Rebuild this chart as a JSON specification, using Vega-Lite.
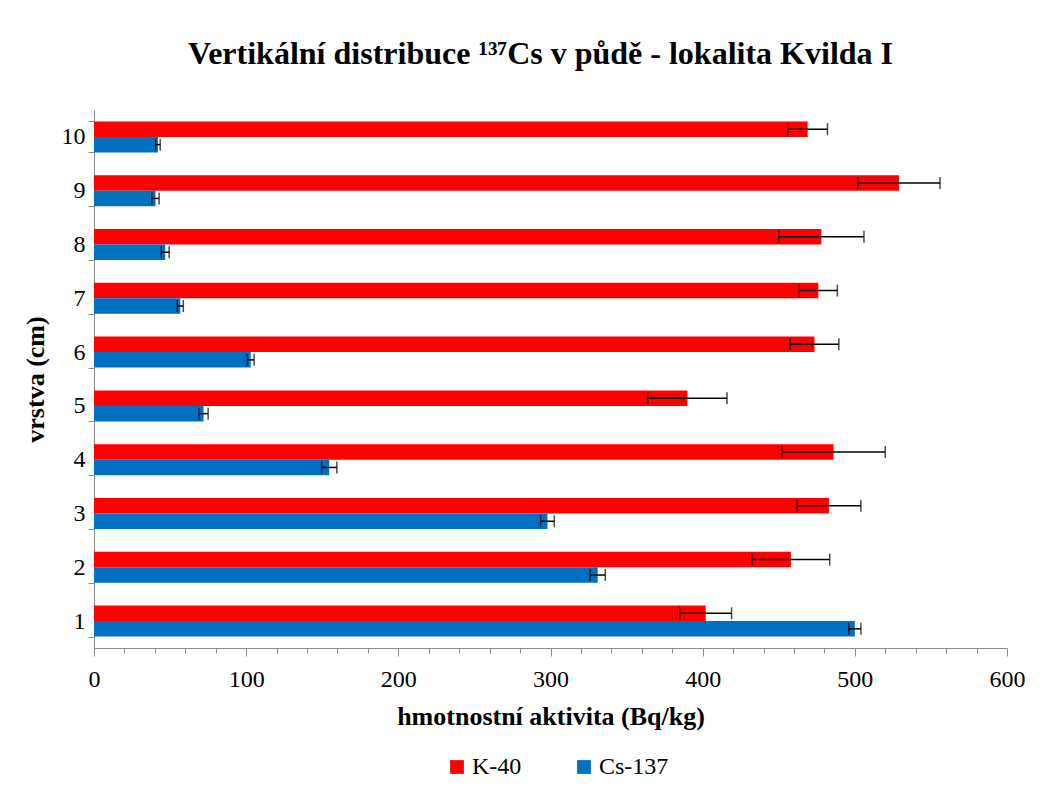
{
  "$schema": "https://vega.github.io/schema/vega-lite/v6.json",
  "width": 913,
  "height": 538,
  "autosize": {"type": "none"},
  "padding": {"left": 94, "top": 110, "right": 49, "bottom": 153},
  "background": "white",
  "config": {"view": {"stroke": null}, "font": "Times New Roman"},
  "title": {
    "text": "Vertikální distribuce ¹³⁷Cs v půdě - lokalita Kvilda I",
    "font": "Times New Roman",
    "fontSize": 32,
    "fontWeight": "bold",
    "color": "black",
    "anchor": "middle",
    "offset": 27,
    "dx": -10
  },
  "data": {
    "values": [
      {"layer": 1, "series": "K-40", "value": 402, "err": 17},
      {"layer": 2, "series": "K-40", "value": 458, "err": 25.5},
      {"layer": 3, "series": "K-40", "value": 483, "err": 21},
      {"layer": 4, "series": "K-40", "value": 486, "err": 34},
      {"layer": 5, "series": "K-40", "value": 390, "err": 26},
      {"layer": 6, "series": "K-40", "value": 473.5, "err": 16},
      {"layer": 7, "series": "K-40", "value": 476, "err": 12.5},
      {"layer": 8, "series": "K-40", "value": 478, "err": 28},
      {"layer": 9, "series": "K-40", "value": 529, "err": 27},
      {"layer": 10, "series": "K-40", "value": 469, "err": 13},
      {"layer": 1, "series": "Cs-137", "value": 500, "err": 4},
      {"layer": 2, "series": "Cs-137", "value": 331, "err": 5},
      {"layer": 3, "series": "Cs-137", "value": 298, "err": 4.5},
      {"layer": 4, "series": "Cs-137", "value": 154.6, "err": 5},
      {"layer": 5, "series": "Cs-137", "value": 72, "err": 3},
      {"layer": 6, "series": "Cs-137", "value": 103, "err": 2.2},
      {"layer": 7, "series": "Cs-137", "value": 56.7, "err": 2},
      {"layer": 8, "series": "Cs-137", "value": 46.8, "err": 2.6},
      {"layer": 9, "series": "Cs-137", "value": 40.4, "err": 2.4},
      {"layer": 10, "series": "Cs-137", "value": 42, "err": 1.5}
    ]
  },
  "encoding": {
    "y": {
      "field": "layer",
      "type": "ordinal",
      "sort": "descending",
      "title": "vrstva (cm)",
      "scale": {"paddingInner": 0.424, "paddingOuter": 0.212},
      "axis": {
        "tickBand": "extent",
        "tickSize": 6,
        "tickColor": "#8c8c8c",
        "domainColor": "#8c8c8c",
        "labelFont": "Times New Roman",
        "labelFontSize": 24,
        "labelColor": "black",
        "labelPadding": 3,
        "titleFont": "Times New Roman",
        "titleFontSize": 26,
        "titleFontWeight": "bold",
        "titleColor": "black",
        "titlePadding": 13
      }
    },
    "yOffset": {"field": "series", "sort": ["K-40", "Cs-137"], "scale": {"paddingInner": 0, "paddingOuter": 0}},
    "x": {
      "field": "value",
      "type": "quantitative",
      "title": "hmotnostní aktivita (Bq/kg)",
      "scale": {"domain": [0, 600], "nice": false},
      "axis": {
        "values": [0, 20, 40, 60, 80, 100, 120, 140, 160, 180, 200, 220, 240, 260, 280, 300, 320, 340, 360, 380, 400, 420, 440, 460, 480, 500, 520, 540, 560, 580, 600],
        "labelExpr": "datum.value % 100 === 0 ? datum.label : ''",
        "tickSize": {"condition": {"test": "datum.value % 100 === 0", "value": 8}, "value": 5},
        "grid": false,
        "tickColor": "#8c8c8c",
        "domainColor": "#8c8c8c",
        "labelFont": "Times New Roman",
        "labelFontSize": 24,
        "labelColor": "black",
        "labelPadding": 11,
        "labelFlush": false,
        "labelOverlap": false,
        "titleFont": "Times New Roman",
        "titleFontSize": 26,
        "titleFontWeight": "bold",
        "titleColor": "black",
        "titlePadding": 12
      }
    }
  },
  "layer": [
    {
      "mark": {"type": "bar"},
      "encoding": {
        "color": {
          "field": "series",
          "type": "nominal",
          "scale": {"domain": ["K-40", "Cs-137"], "range": ["#FF0000", "#0070C0"]},
          "legend": {
            "title": null,
            "orient": "none",
            "direction": "horizontal",
            "legendX": 351,
            "legendY": 645,
            "symbolType": "square",
            "symbolSize": 190,
            "symbolStrokeWidth": 0,
            "labelFont": "Times New Roman",
            "labelFontSize": 24,
            "labelColor": "black",
            "labelOffset": 3,
            "columnPadding": 50
          }
        }
      }
    },
    {
      "mark": {
        "type": "errorbar",
        "ticks": {"size": 12, "thickness": 1.5, "color": "black"},
        "rule": {"strokeWidth": 1.5, "color": "black"}
      },
      "encoding": {
        "xError": {"field": "err"}
      }
    }
  ]
}
